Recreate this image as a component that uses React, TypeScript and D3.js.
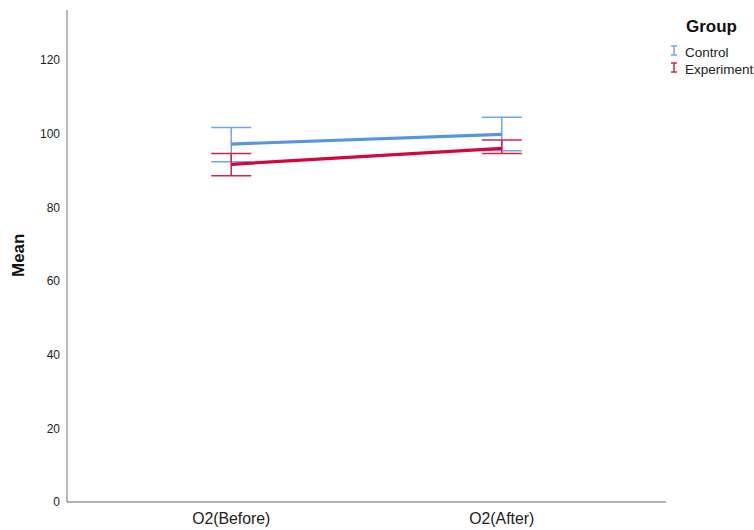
import React from "react";
import * as d3 from "d3";

const categories = ["O2(Before)", "O2(After)"];
const groups = ["Control", "Experiment"];
const colors = ["#5595e3", "#d4063c"];
const barColors = ["#6fa6ec", "#d8204f"];
const means = [
  [97.2, 99.8],
  [91.7, 96.0],
];
const upper = [
  [101.7, 104.5],
  [94.6, 98.3],
];
const lower = [
  [92.4, 95.4],
  [88.6, 94.6],
];
const yTicks = [0, 20, 40, 60, 80, 100, 120];

const W = 754;
const H = 530;
const left = 67;
const right = 666;
const top = 10;
const bottom = 502;
const font = "'Liberation Sans', Arial, sans-serif";

export default function App() {
  const x = d3.scalePoint<string>().domain(categories).range([left, right]).padding(0.607);
  const y = d3.scaleLinear().domain([0, 133.6]).range([bottom, top]);
  const line = d3
    .line<number>()
    .x((_, i) => x(categories[i]) as number)
    .y((d) => y(d));
  const capW = 20;

  return (
    <svg width={W} height={H} style={{ position: "absolute", left: 0, top: 0, background: "#fff" }} fontFamily={font}>
      {/* axes */}
      <line x1={left} x2={left} y1={top} y2={bottom} stroke="#888" strokeWidth={1.2} />
      <line x1={left} x2={right} y1={bottom} y2={bottom} stroke="#666" strokeWidth={1.2} />
      {yTicks.map((t) => (
        <text key={t} x={left - 7} y={y(t)} dy="0.35em" textAnchor="end" fontSize={12} fill="#222">
          {t}
        </text>
      ))}
      {categories.map((c) => (
        <text key={c} x={x(c)} y={524} textAnchor="middle" fontSize={15.8} fill="#222">
          {c}
        </text>
      ))}
      <text
        transform={`translate(24, ${y(67)}) rotate(-90)`}
        textAnchor="middle"
        fontSize={17}
        fontWeight="bold"
        fill="#111"
      >
        Mean
      </text>
      {/* error bars */}
      {groups.map((g, gi) =>
        categories.map((c, ci) => {
          const cx = x(c) as number;
          return (
            <g key={g + c} stroke={barColors[gi]} strokeWidth={1.5}>
              <line x1={cx} x2={cx} y1={y(upper[gi][ci])} y2={y(lower[gi][ci])} />
              <line x1={cx - capW} x2={cx + capW} y1={y(upper[gi][ci])} y2={y(upper[gi][ci])} />
              <line x1={cx - capW} x2={cx + capW} y1={y(lower[gi][ci])} y2={y(lower[gi][ci])} />
            </g>
          );
        })
      )}
      {/* mean lines */}
      {groups.map((g, gi) => (
        <path key={g} d={line(means[gi]) || ""} fill="none" stroke={colors[gi]} strokeWidth={3.2} />
      ))}
      {/* legend */}
      <text x={686} y={32} fontSize={17} fontWeight="bold" fill="#111">
        Group
      </text>
      {groups.map((g, gi) => {
        const ly = 51 + gi * 17;
        return (
          <g key={g}>
            <g stroke={barColors[gi]} strokeWidth={1.5}>
              <line x1={674} x2={674} y1={ly - 5} y2={ly + 4} />
              <line x1={671} x2={677} y1={ly - 5} y2={ly - 5} />
              <line x1={671} x2={677} y1={ly + 4} y2={ly + 4} />
            </g>
            <text x={685} y={ly + 1} dy="0.35em" fontSize={13.5} fill="#222">
              {g}
            </text>
          </g>
        );
      })}
    </svg>
  );
}
